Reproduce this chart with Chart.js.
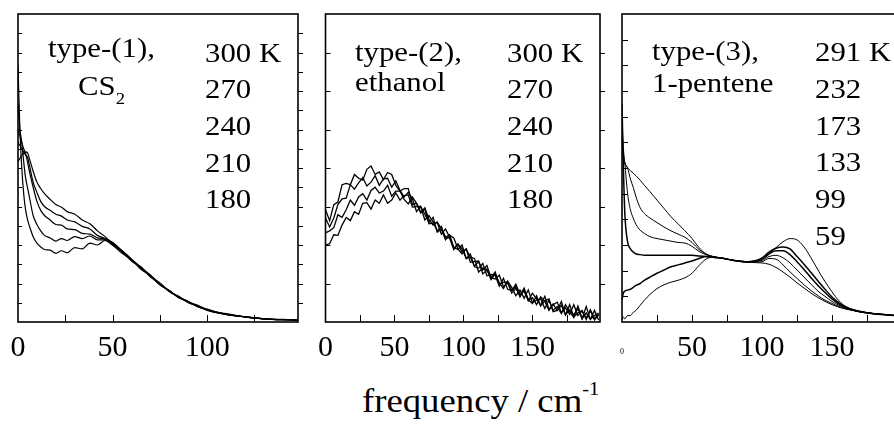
<!DOCTYPE html>
<html>
<head>
<meta charset="utf-8">
<script src="https://cdn.jsdelivr.net/npm/chart.js@4.4.0/dist/chart.umd.min.js"></script>
<style>
html, body { margin: 0; padding: 0; background: #fff; overflow: hidden; }
#wrap { position: relative; width: 894px; height: 425px; overflow: hidden; font-family: "Liberation Serif", "Times New Roman", serif; color: #000; }
canvas { position: absolute; top: 0; }
.t { position: absolute; font-size: 28px; line-height: 28px; white-space: nowrap; transform: scaleX(1.1); transform-origin: 0 0; }
.ttl { position: absolute; font-size: 34px; line-height: 34px; white-space: nowrap; transform: scaleX(1.08); transform-origin: 0 0; }
</style>
</head>
<body>
<div id="wrap">
  <canvas id="p1" width="310" height="362" style="left:0"></canvas>
  <canvas id="p2" width="300" height="362" style="left:310px"></canvas>
  <canvas id="p3" width="300" height="362" style="left:610px"></canvas>

  <div class="t" style="left:48px;top:34px">type-(1),</div>
  <div class="t" style="left:78px;top:72px">CS<span style="font-size:17px;position:relative;top:9px">2</span></div>
  <div class="t" style="left:205px;top:39px">300 K</div>
  <div class="t" style="left:205px;top:75px">270</div>
  <div class="t" style="left:205px;top:112px">240</div>
  <div class="t" style="left:205px;top:149px">210</div>
  <div class="t" style="left:205px;top:185px">180</div>

  <div class="t" style="left:355px;top:38px">type-(2),</div>
  <div class="t" style="left:355px;top:68px">ethanol</div>
  <div class="t" style="left:507px;top:39px">300 K</div>
  <div class="t" style="left:507px;top:75px">270</div>
  <div class="t" style="left:507px;top:112px">240</div>
  <div class="t" style="left:507px;top:149px">210</div>
  <div class="t" style="left:507px;top:185px">180</div>

  <div class="t" style="left:652px;top:37px">type-(3),</div>
  <div class="t" style="left:652px;top:69px">1-pentene</div>
  <div class="t" style="left:815px;top:38px">291 K</div>
  <div class="t" style="left:815px;top:75px">232</div>
  <div class="t" style="left:815px;top:112px">173</div>
  <div class="t" style="left:815px;top:148px">133</div>
  <div class="t" style="left:815px;top:185px">99</div>
  <div class="t" style="left:815px;top:222px">59</div>

  <div class="ttl" style="left:362px;top:384px">frequency / cm<span style="font-size:19px;position:relative;top:-17px">-1</span></div>
</div>

<script>
// panel 1 : CS2, 300 / 270 / 240 / 210 / 180 K
var freqCS2 = [0, 1, 2, 3, 4, 5, 6, 8, 10, 12, 14, 17, 20, 23, 26, 30, 34, 38, 42, 46, 50, 55, 60, 65, 70, 75, 80, 85, 90, 95, 100, 110, 120, 130, 140, 148];
var cs2_300 = [25, 25.5, 26, 26.3, 26.5, 26.4, 25.5, 23.5, 21.8, 20.8, 20.0, 19.1, 18.3, 17.9, 17.2, 16.8, 15.9, 15.3, 14.2, 13.3, 12.2, 10.9, 9.6, 8.4, 7.1, 5.9, 4.8, 3.9, 3.1, 2.5, 1.9, 1.2, 0.8, 0.5, 0.35, 0.3];
var cs2_270 = [28, 27.5, 27, 26.5, 26.0, 25.7, 24.5, 21.8, 20.2, 18.8, 18.0, 17.4, 16.8, 16.5, 15.9, 15.6, 14.9, 14.5, 13.5, 13.0, 12.4, 11.1, 9.5, 8.6, 7.0, 6.1, 4.8, 4.0, 3.1, 2.6, 1.9, 1.3, 0.8, 0.5, 0.35, 0.3];
var cs2_240 = [30, 29, 28, 27, 26.3, 25, 23.5, 21, 18.8, 17.4, 16.6, 15.9, 15.2, 15.1, 14.5, 14.4, 13.8, 13.7, 13.1, 12.9, 12.0, 10.7, 9.7, 8.3, 7.2, 5.8, 4.9, 3.8, 3.2, 2.4, 2.0, 1.2, 0.8, 0.5, 0.35, 0.3];
var cs2_210 = [34, 30, 28, 25, 22.5, 21, 19.5, 16.6, 15.2, 14.2, 13.5, 13.1, 12.6, 13.0, 12.7, 13.3, 13.0, 13.4, 12.8, 12.8, 12.4, 11.0, 9.8, 8.5, 7.3, 6.0, 4.7, 3.9, 3.0, 2.5, 1.8, 1.2, 0.8, 0.5, 0.35, 0.3];
var cs2_180 = [40, 30, 24, 20, 17.5, 16, 15, 13.3, 12.3, 11.7, 11.3, 11.2, 10.7, 11.1, 10.8, 11.6, 11.4, 12.3, 12.0, 12.7, 12.0, 11.1, 9.8, 8.2, 7.3, 5.8, 4.9, 3.8, 3.2, 2.4, 1.9, 1.2, 0.8, 0.5, 0.4, 0.3];
var ticksCS2 = [0, 50, 100];

// panel 2 : ethanol, four noisy spectra
var freqEth = [0, 3, 6, 9, 12, 15, 18, 21, 24, 27, 30, 33, 36, 39, 42, 45, 48, 51, 54, 57, 60, 63, 66, 69, 72, 75, 78, 81, 84, 87, 90, 93, 96, 99, 102, 105, 108, 111, 114, 117, 120, 123, 126, 129, 132, 135, 138, 141, 144, 147, 150, 153, 156, 159, 162, 165, 168, 171, 174, 177, 180, 183, 186, 189, 192, 195, 198];
var eth_a = [17.5, 15.8, 18.3, 18.7, 21.4, 21.6, 21.4, 23.0, 22.4, 22.1, 23.8, 24.3, 23.0, 23.4, 22.2, 23.3, 23.0, 21.3, 20.4, 20.8, 20.8, 18.3, 18.5, 17.1, 17.6, 15.3, 15.4, 15.5, 13.7, 14.5, 13.2, 11.5, 12.1, 10.9, 11.4, 9.3, 9.4, 9.5, 7.5, 8.1, 6.9, 7.8, 5.8, 6.2, 6.2, 4.5, 5.2, 4.2, 5.3, 3.4, 3.8, 2.7, 3.9, 3.2, 1.8, 2.8, 1.8, 3.2, 1.1, 1.9, 1.1, 2.1, 0.5, 2.4, 0.4, 1.0, 1.4];
var eth_b = [16.2, 14.8, 16.2, 18.3, 19.2, 19.3, 21.4, 20.7, 21.7, 22.5, 21.2, 21.8, 22.8, 21.3, 22.3, 22.4, 21.0, 22.0, 20.5, 19.5, 20.2, 19.2, 17.2, 18.0, 16.8, 15.5, 16.3, 14.0, 14.5, 13.2, 13.6, 11.6, 11.3, 12.0, 9.9, 10.1, 9.9, 7.8, 8.4, 8.2, 6.6, 7.5, 6.1, 5.2, 6.4, 5.4, 4.1, 5.0, 3.7, 5.0, 3.0, 3.4, 3.6, 2.1, 3.4, 1.8, 2.4, 1.3, 2.7, 1.6, 0.7, 2.5, 0.5, 1.4, 0.4, 1.8, 0.3];
var eth_c = [13.9, 14.2, 14.7, 16.7, 16.3, 17.5, 19.0, 18.2, 19.5, 20.0, 19.0, 20.5, 21.0, 20.1, 20.4, 21.3, 19.6, 20.4, 20.4, 19.1, 18.4, 19.5, 18.5, 17.0, 17.8, 16.0, 15.1, 15.6, 14.5, 12.8, 13.5, 13.1, 11.4, 10.6, 11.4, 10.1, 8.7, 9.4, 8.1, 8.8, 6.9, 6.7, 7.3, 5.5, 6.1, 4.9, 5.9, 4.3, 4.8, 3.3, 4.5, 3.6, 2.6, 4.0, 2.0, 2.7, 3.1, 1.5, 2.2, 1.2, 2.7, 1.0, 1.7, 0.6, 1.9, 0.5, 1.2];
var eth_d = [12.0, 12.2, 13.6, 13.5, 15.1, 16.3, 15.8, 17.2, 16.8, 18.5, 18.6, 17.6, 19.0, 18.5, 19.8, 18.5, 19.0, 20.1, 19.0, 19.7, 19.8, 17.9, 18.0, 18.0, 15.9, 16.6, 15.6, 14.2, 14.9, 13.1, 13.1, 11.3, 12.2, 11.4, 9.9, 10.6, 8.6, 8.4, 9.1, 7.2, 7.4, 7.3, 5.6, 6.8, 5.1, 4.9, 5.5, 3.9, 5.1, 3.5, 2.9, 4.1, 2.5, 3.3, 3.6, 1.6, 1.8, 2.6, 1.1, 2.7, 0.8, 1.4, 1.8, 0.4, 1.8, 0.3, 1.1];
var ticksEth = [0, 50, 100, 150];

// panel 3 : 1-pentene, 291 / 232 / 173 / 133 / 99 / 59 K
var freqPen = [0, 1, 2, 4, 6, 8, 10, 13, 16, 20, 25, 30, 35, 40, 45, 50, 55, 60, 65, 70, 80, 90, 100, 105, 110, 115, 120, 125, 130, 135, 140, 145, 150, 155, 160, 170, 180, 190, 200];
var pen_291 = [26.5, 25.5, 24.8, 24.0, 23.6, 23.2, 22.8, 22.1, 21.3, 20.3, 19.0, 17.7, 16.4, 15.3, 14.2, 13.0, 11.6, 10.6, 10.2, 10.0, 9.6, 9.3, 9.2, 9.0, 8.5, 7.8, 7.0, 6.1, 5.3, 4.5, 3.8, 3.2, 2.7, 2.3, 2.0, 1.6, 1.3, 1.1, 0.9];
var pen_232 = [29, 26, 24.8, 24.0, 22.3, 21.0, 19.5, 17.8, 16.9, 16.2, 15.5, 14.8, 14.2, 13.7, 13.2, 12.4, 11.3, 10.6, 10.2, 10.0, 9.6, 9.3, 9.4, 9.9, 9.8, 8.9, 7.8, 6.8, 5.8, 4.9, 4.1, 3.4, 2.9, 2.4, 2.1, 1.6, 1.3, 1.1, 0.9];
var pen_173 = [31, 27, 24.8, 20, 17.5, 16.2, 15.2, 14.3, 13.8, 13.3, 13.0, 12.8, 12.6, 12.4, 12.3, 11.8, 11.0, 10.5, 10.2, 10.0, 9.6, 9.4, 9.6, 10.2, 10.4, 10.0, 9.2, 8.1, 7.0, 5.9, 4.8, 4.0, 3.2, 2.6, 2.2, 1.6, 1.3, 1.1, 0.9];
var pen_133 = [34, 24, 17, 12.5, 11.4, 10.9, 10.6, 10.5, 10.4, 10.4, 10.4, 10.4, 10.4, 10.4, 10.4, 10.4, 10.3, 10.2, 10.1, 10.0, 9.6, 9.4, 9.8, 10.6, 11.1, 11.1, 10.5, 9.4, 8.2, 6.9, 5.7, 4.6, 3.6, 2.8, 2.2, 1.6, 1.3, 1.1, 0.9];
var pen_99 = [3.5, 4.5, 4.8, 5.0, 5.1, 5.4, 5.7, 6.0, 6.5, 7.0, 7.6, 8.1, 8.6, 8.9, 9.2, 9.5, 9.9, 10.2, 10.1, 10.0, 9.6, 9.4, 10.0, 10.9, 11.5, 11.7, 11.4, 10.2, 9.0, 7.7, 6.4, 5.1, 3.9, 3.0, 2.3, 1.6, 1.3, 1.1, 0.9];
var pen_59 = [0.3, 0.8, 0.5, 1.0, 1.0, 1.5, 1.8, 2.6, 3.4, 4.3, 5.2, 5.8, 6.2, 6.5, 6.9, 7.6, 8.8, 9.8, 10.1, 10.0, 9.6, 9.4, 9.8, 10.6, 11.6, 12.5, 13.0, 12.8, 11.7, 10.0, 8.1, 6.3, 4.7, 3.3, 2.4, 1.7, 1.3, 1.1, 0.9];
var ticksPen = [0, 50, 100, 150];

var labelFont = "'Liberation Serif', 'Times New Roman', serif";

// frame, inward ticks (and outward ticks on the right edge)
var frameTicks = {
    id: 'frameTicks',
    afterDraw: function (chart, args, opts) {
        var ctx = chart.ctx, a = chart.chartArea;
        var xs = chart.scales.x, ys = chart.scales.y;
        ctx.save();
        ctx.strokeStyle = '#000';
        ctx.lineWidth = 1;
        ctx.beginPath();
        for (var v = opts.yStep; v < ys.max; v += opts.yStep) {
            var py = Math.round(ys.getPixelForValue(v)) + 0.5;
            ctx.moveTo(a.left, py);
            ctx.lineTo(a.left + opts.tickLen, py);
            if (opts.rightOut) {
                ctx.moveTo(a.right, py);
                ctx.lineTo(a.right + 5, py);
            }
        }
        for (var w = 25; w < xs.max; w += 25) {
            var px = Math.round(xs.getPixelForValue(w)) + 0.5;
            ctx.moveTo(px, a.bottom);
            ctx.lineTo(px, a.bottom - 7);
        }
        ctx.stroke();
        ctx.lineWidth = 1.6;
        ctx.strokeRect(a.left, a.top, a.right - a.left, a.bottom - a.top);
        ctx.restore();
    }
};

function makePanel(id, freq, curves, tickVals, xMax, yStep, padL, padR, widths, smooth, tinyZero, rightOut, tickLen) {
    var datasets = curves.map(function (c, k) {
        return {
            data: c.map(function (v, i) { return { x: freq[i], y: v }; }),
            borderColor: '#000',
            borderWidth: widths[k],
            pointRadius: 0,
            fill: false,
            tension: 0,
            cubicInterpolationMode: smooth ? 'monotone' : 'default'
        };
    });
    return new Chart(document.getElementById(id).getContext('2d'), {
        type: 'line',
        data: { datasets: datasets },
        plugins: [frameTicks],
        options: {
            responsive: false,
            animation: false,
            devicePixelRatio: 1,
            layout: { padding: { left: padL, right: padR, top: 14, bottom: 0 } },
            scales: {
                x: {
                    type: 'linear',
                    min: 0,
                    max: xMax,
                    grid: { display: false, drawTicks: false },
                    border: { display: false },
                    afterFit: function (s) { s.height = 40; },
                    afterBuildTicks: function (s) {
                        s.ticks = tickVals.map(function (t) { return { value: t }; });
                    },
                    ticks: {
                        maxRotation: 0,
                        autoSkip: false,
                        padding: 8,
                        color: '#000',
                        font: function (c) {
                            if (tinyZero && c.tick && c.tick.value === 0) return { family: labelFont, size: 8, lineHeight: 5.5 };
                            return { family: labelFont, size: 30 };
                        }
                    }
                },
                y: {
                    display: false,
                    min: 0,
                    max: 48
                }
            },
            plugins: {
                legend: { display: false },
                tooltip: { enabled: false },
                frameTicks: { yStep: yStep, rightOut: rightOut, tickLen: tickLen }
            }
        }
    });
}

makePanel('p1', freqCS2, [cs2_300, cs2_270, cs2_240, cs2_210, cs2_180], ticksCS2, 148, 3, 18, 12, [1.2, 1.2, 1.2, 1.2, 1.2], true, false, true, 4);
makePanel('p2', freqEth, [eth_a, eth_b, eth_c, eth_d], ticksEth, 199, 6, 12, 10, [1.3, 1.3, 1.3, 1.3], false, false, true, 5);
makePanel('p3', freqPen, [pen_291, pen_232, pen_173, pen_133, pen_99, pen_59], ticksPen, 200, 4, 12, 8, [1, 1, 1, 1.5, 1.5, 1], true, true, false, 6);
</script>
</body>
</html>
